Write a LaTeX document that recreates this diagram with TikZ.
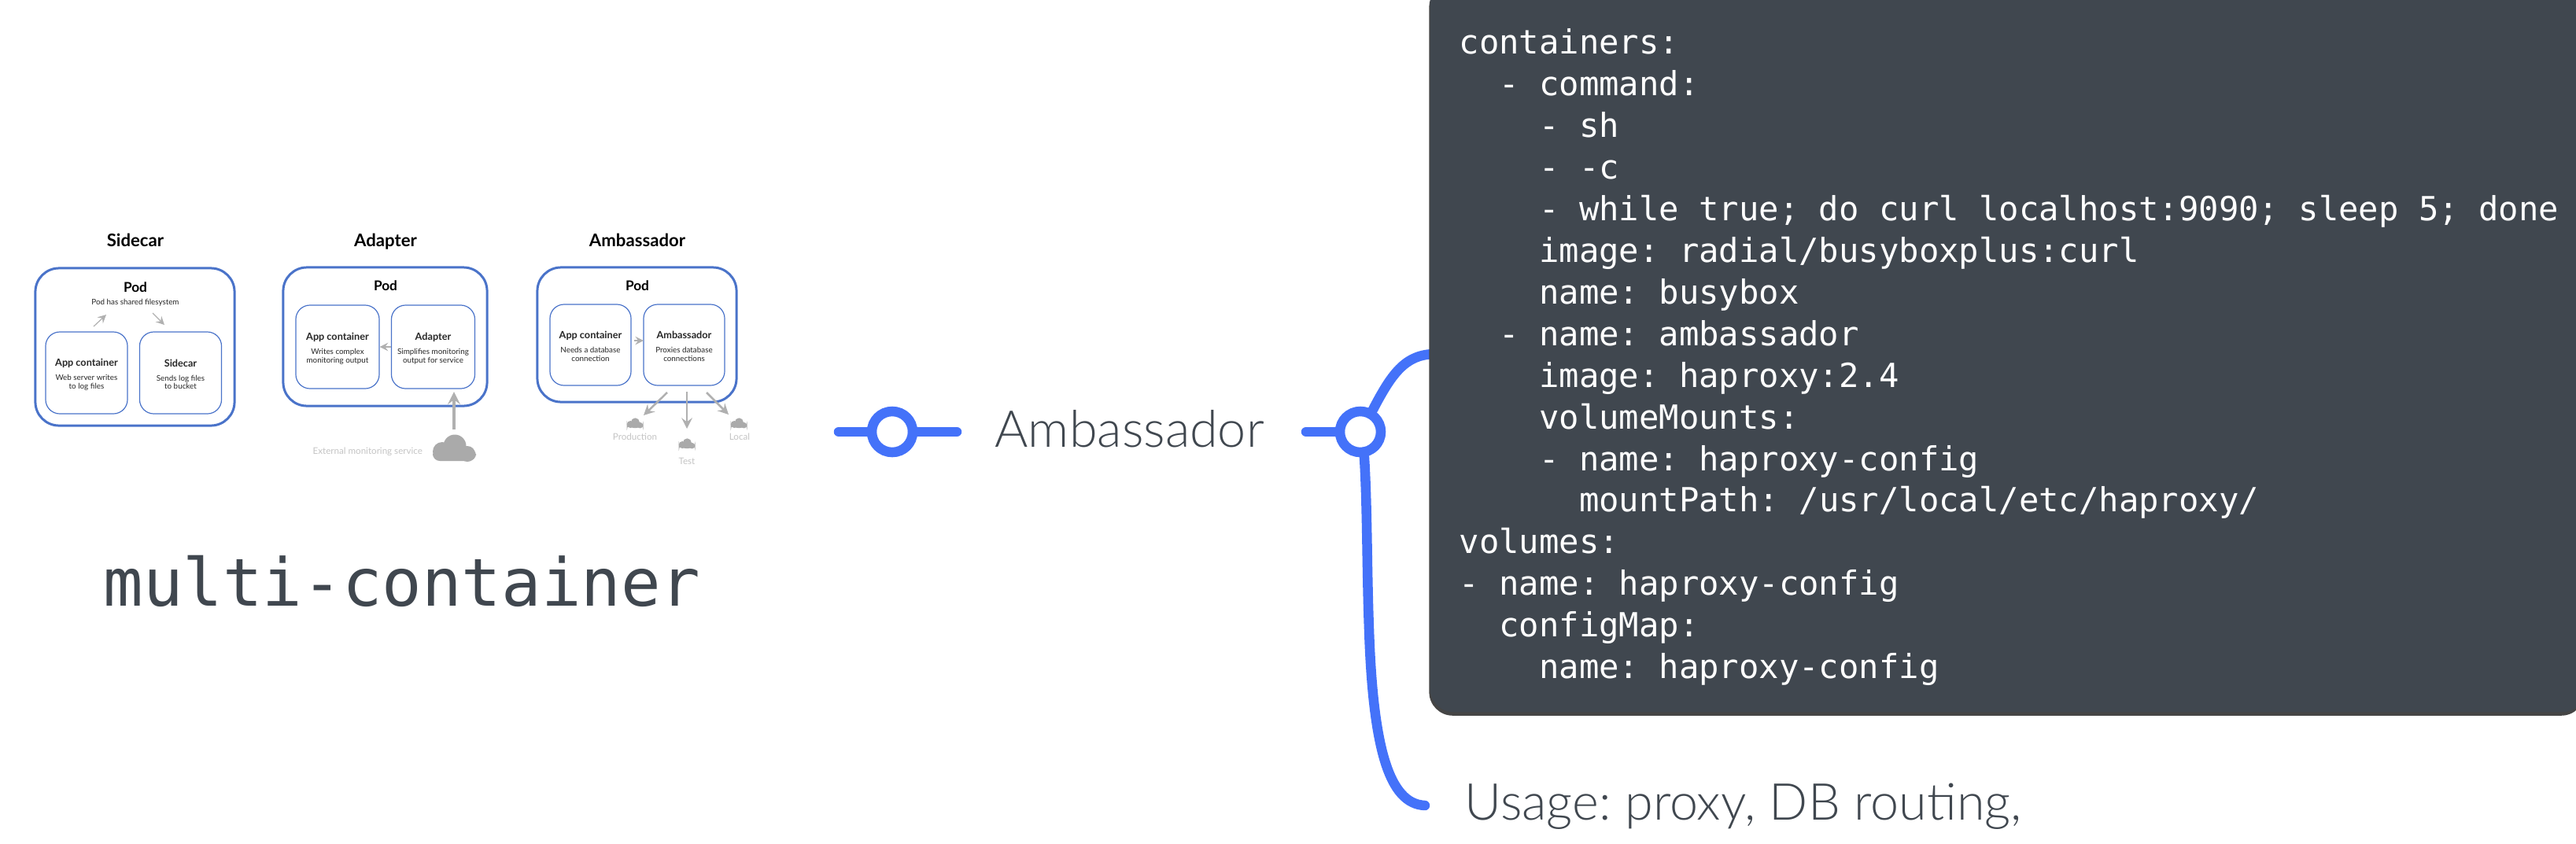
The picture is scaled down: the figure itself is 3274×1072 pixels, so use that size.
\documentclass[tikz,border=0pt]{standalone}
\usepackage{xcolor}
\usepackage{fontspec}
\usepackage{tikz}
\usetikzlibrary{arrows, positioning, calc, shadows}
\setmainfont{Lato}
\newfontfamily\codefont{DejaVu Sans Mono}
\newfontfamily\lightfont[UprightFont=* Light]{Lato}
\definecolor{podblue}{RGB}{74, 115, 201}
\definecolor{linkblue}{RGB}{68, 114, 249}
\definecolor{slategray}{RGB}{64, 71, 79}
\definecolor{panelshadow}{RGB}{69, 69, 69}
\definecolor{arrowgray}{RGB}{176, 176, 176}
\definecolor{cloudgray}{RGB}{170, 170, 170}
\definecolor{faintgray}{RGB}{196, 196, 196}
\newcommand{\podtext}[3]{{\fontsize{3.6}{3}\selectfont\bfseries #1}\\[2.1pt]#2\\#3}
\tikzset{
    podbox/.style={draw=podblue, line width=0.03cm, rounded corners=0.3cm, minimum width=2.53cm, inner sep=0pt},
    innerbox/.style={draw=podblue, line width=0.012cm, rounded corners=0.18cm, minimum width=1.04cm, minimum height=1.04cm, inner sep=0pt},
    innertext/.style={align=center, inner sep=0pt, text=black!85, font=\fontsize{2.8}{3}\selectfont},
    headtext/.style={font=\fontsize{6.3}{7}\selectfont\bfseries, inner sep=0pt, anchor=base},
    podtitle/.style={font=\fontsize{4.9}{6}\selectfont\bfseries, inner sep=0pt},
    fainttext/.style={font=\fontsize{3.3}{4}\selectfont, text=faintgray, inner sep=0pt},
    thinarrow/.style={-stealth, draw=arrowgray, line width=0.012cm},
    thickarrow/.style={-stealth, draw=arrowgray, line width=0.035cm},
    ring/.style={circle, draw=linkblue, fill=white, line width=0.125cm, minimum size=0.52cm, inner sep=0pt, outer sep=0pt},
    link/.style={draw=linkblue, line width=0.125cm, line cap=round},
    biglabel/.style={font=\lightfont\frenchspacing\fontsize{18.4}{20}\selectfont, text=slategray, inner sep=0pt},
    cloudicon/.pic={
        \fill[cloudgray, rounded corners=0.09cm] (-27,0) rectangle (28,16);
        \fill[cloudgray] (-15,4) circle (12) (1,-3) circle (14.5) (17,7) circle (10);
    }
}

\begin{document}
\begin{tikzpicture}[x=0.01cm, y=-0.01cm]
    \useasboundingbox (0,0) rectangle (3274,1072);

    % sidecar
    \node[headtext] (sidecarhead) at (172,313) {Sidecar};
    \node[podbox, minimum height=2cm] (sidecarpod) at (171.5,441) {};
    \node[podtitle] (sidecarpodtitle) at (172,365) {Pod};
    \node[inner sep=0pt, font=\fontsize{2.8}{3}\selectfont, text=black!85] (sharedfs) at (172,385) {Pod has shared filesystem};
    \node[innerbox] (sidecarapp) at (110,474) {};
    \node[innerbox] (sidecarbox) at (229.5,474) {};
    \node[innertext] (sidecarapptext) at (110,476) {\podtext{App container}{Web server writes}{to log files}};
    \node[innertext] (sidecarboxtext) at (229.5,476) {\podtext{Sidecar}{Sends log files}{to bucket}};
    \coordinate (writefrom) at (119,415);
    \coordinate (writeto) at (135,400);
    \coordinate (readfrom) at (194,398);
    \coordinate (readto) at (209,413);
    \draw[thinarrow] (writefrom) -- (writeto);
    \draw[thinarrow] (readfrom) -- (readto);

    % adapter
    \node[headtext] (adapterhead) at (490,313) {Adapter};
    \node[podbox, minimum width=2.59cm, minimum height=1.76cm] (adapterpod) at (489.5,428) {};
    \node[podtitle] (adapterpodtitle) at (490,363) {Pod};
    \node[innerbox, minimum width=1.06cm, minimum height=1.06cm] (adapterapp) at (429,441) {};
    \node[innerbox, minimum width=1.06cm, minimum height=1.06cm] (adapterbox) at (550.5,441) {};
    \node[innertext] (adapterapptext) at (429,443) {\podtext{App container}{Writes complex}{monitoring output}};
    \node[innertext] (adapterboxtext) at (550.5,443) {\podtext{Adapter}{Simplifies monitoring}{output for service}};
    \draw[thinarrow] (adapterbox.west) -- (adapterapp.east);
    \node[fainttext, anchor=west] (monitoring) at (397,574) {External monitoring service};
    \pic (bigcloud) at (577,570) {cloudicon};
    \coordinate (monitorfrom) at (577,546);
    \coordinate (monitorto) at (577,498);
    \draw[thickarrow] (monitorfrom) -- (monitorto);

    % ambassador
    \node[headtext] (ambassadorhead) at (810,313) {Ambassador};
    \node[podbox, minimum height=1.71cm] (ambassadorpod) at (809.5,425.5) {};
    \node[podtitle] (ambassadorpodtitle) at (810,363) {Pod};
    \node[innerbox, minimum width=1.03cm, minimum height=1.03cm] (ambassadorapp) at (750.5,438.5) {};
    \node[innerbox, minimum width=1.03cm, minimum height=1.03cm] (ambassadorbox) at (869.5,438.5) {};
    \node[innertext] (ambassadorapptext) at (750.5,440.5) {\podtext{App container}{Needs a database}{connection}};
    \node[innertext] (ambassadorboxtext) at (869.5,440.5) {\podtext{Ambassador}{Proxies database}{connections}};
    \coordinate (proxyfrom) at (806,433);
    \coordinate (proxyto) at (818,433);
    \draw[thinarrow] (proxyfrom) -- (proxyto);
    \coordinate (prodfrom) at (848,499);
    \coordinate (prodto) at (818,528);
    \coordinate (testfrom) at (873,498);
    \coordinate (testto) at (873,545);
    \coordinate (localfrom) at (898,499);
    \coordinate (localto) at (926,527);
    \draw[thickarrow, line width=0.025cm] (prodfrom) -- (prodto);
    \draw[thickarrow, line width=0.025cm] (testfrom) -- (testto);
    \draw[thickarrow, line width=0.025cm] (localfrom) -- (localto);
    \pic[scale=0.38] (prodcloud) at (807,538) {cloudicon};
    \pic[scale=0.38] (testcloud) at (873,564) {cloudicon};
    \pic[scale=0.38] (localcloud) at (939,538) {cloudicon};
    \node[fainttext] (production) at (807,555) {Production};
    \node[fainttext] (testenv) at (873,586) {Test};
    \node[fainttext] (localenv) at (940,555) {Local};

    \node[font=\codefont\fontsize{23.9}{28}\selectfont, text=slategray, inner sep=0pt] (multicontainer) at (511,739) {multi-container};

    % links
    \node[ring] (ringleft) at (1134,549) {};
    \coordinate (stubleft) at (1066,549);
    \coordinate (stubright) at (1216,549);
    \draw[link] (stubleft) -- (ringleft);
    \draw[link] (ringleft) -- (stubright);
    \node[biglabel, anchor=base west] (ambassadorlabel) at (1264,568) {Ambassador};
    \node[ring] (ringright) at (1729,549) {};
    \coordinate (stubmid) at (1660,549);
    \coordinate (panelend) at (1825,450);
    \coordinate (usageend) at (1811,1024);
    \draw[link] (stubmid) -- (ringright);
    \draw[link] (ringright.60) .. controls (1768,476) and (1785,450) .. (panelend);
    \draw[link] (ringright.-80) .. controls (1738,640) and (1737,720) .. (1740,800) .. controls (1745,950) and (1765,1022) .. (usageend);

    \node[fill=slategray, rounded corners=0.3cm, minimum width=14.68cm, minimum height=9.3cm, inner sep=0pt,
          drop shadow={shadow xshift=-0.012cm, shadow yshift=-0.045cm, opacity=1, fill=panelshadow}] (codepanel) at (2552,440) {};
    \node[anchor=north west, align=left, inner sep=0pt, text=white,
          font=\codefont\frenchspacing\fontsize{12}{15.05}\selectfont] (code) at (1854,36) {%
        containers:\\
        ~~- command:\\
        ~~~~- sh\\
        ~~~~- -c\\
        ~~~~- while true; do curl localhost:9090; sleep 5; done\\
        ~~~~image: radial/busyboxplus:curl\\
        ~~~~name: busybox\\
        ~~- name: ambassador\\
        ~~~~image: haproxy:2.4\\
        ~~~~volumeMounts:\\
        ~~~~- name: haproxy-config\\
        ~~~~~~mountPath: /usr/local/etc/haproxy/\\
        volumes:\\
        - name: haproxy-config\\
        ~~configMap:\\
        ~~~~name: haproxy-config
    };
    \node[biglabel, anchor=base west] (usage) at (1861,1042) {Usage: proxy, DB routing,};
\end{tikzpicture}
\end{document}
